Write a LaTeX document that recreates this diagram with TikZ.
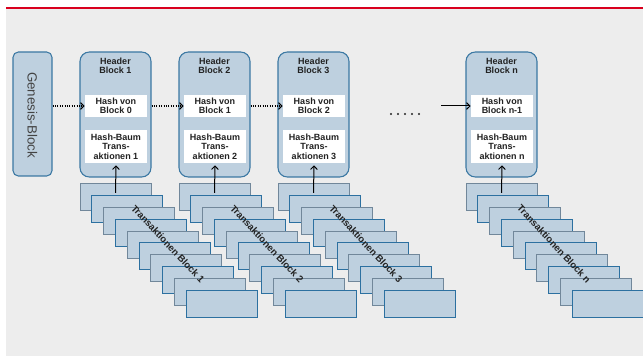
\documentclass[tikz,border=0pt]{standalone}
\usepackage{fontspec}
\setmainfont{Liberation Sans}
\usetikzlibrary{arrows.meta}

\definecolor{bggray}{HTML}{EDEDED}
\definecolor{topred}{HTML}{D9001E}
\definecolor{boxfill}{HTML}{BED0DF}
\definecolor{boxline}{HTML}{3B78A3}
\definecolor{stackA}{HTML}{71879A}
\definecolor{stackB}{HTML}{2C70A0}
\definecolor{txt}{HTML}{222222}

\begin{document}
\begin{tikzpicture}[x=0.75pt,y=-0.75pt,
  blockbox/.style={draw=boxline, line width=0.8pt, fill=boxfill,
    rounded corners=7pt, minimum width=53.25pt, minimum height=93.75pt,
    inner sep=0pt},
  genbox/.style={draw=boxline, line width=0.8pt, fill=boxfill,
    rounded corners=4pt, minimum width=29.25pt, minimum height=93pt,
    inner sep=0pt},
  hashbox/.style={fill=white, minimum width=46.5pt, minimum height=16.5pt,
    inner sep=0pt, align=center, text=txt,
    font=\bfseries\fontsize{6.75pt}{7pt}\selectfont},
  treebox/.style={hashbox, minimum height=24.75pt},
  titletext/.style={align=center, text=txt, inner sep=0pt,
    font=\bfseries\fontsize{6.75pt}{6.9pt}\selectfont},
  txrect/.style={fill=boxfill, line width=0.75pt, minimum width=53.25pt,
    minimum height=20.25pt, inner sep=0pt},
  txlabel/.style={rotate=-47, text=txt, inner sep=0pt,
    font=\bfseries\fontsize{7.2pt}{8.5pt}\selectfont},
  link/.style={densely dotted, line width=0.8pt,
    -{Straight Barb[length=2.6pt,width=5pt]}},
  solidlink/.style={line width=0.75pt,
    -{Straight Barb[length=2.6pt,width=5pt]}}
]
\useasboundingbox (0,0) rectangle (643,356);

% page frame: white margin, grey panel, red rule on top
\fill[white] (0,0) rectangle (643,356);
\fill[bggray] (6,9) rectangle (643,356);
\fill[topred] (6,7) rectangle (643,9.2);

% genesis block
\node[genbox] (genesis) at (32.5,114) {};
\node[rotate=-90, text=txt!85!white, inner sep=0pt,
  font=\fontsize{10pt}{12pt}\selectfont] (genlabel) at (32.5,115) {Genesis-Block};

% block headers
\foreach \i/\L/\h/\t in {1/80/0/1, 2/179/1/2, 3/278/2/3, n/466/n-1/n}{
  \node[blockbox] (blk\i) at ({\L+35.5},114.5) {};
  \node[titletext] (title\i) at ({\L+35.5},65.5) {Header\\Block \t};
  \node[hashbox] (hash\i) at ({\L+36},106) {Hash von\\Block \h};
  \node[treebox] (tree\i) at ({\L+36},146.5) {Hash-Baum\\Trans-\\aktionen \t};
}

% chain links
\draw[link] (genesis.east |- hash1) -- (hash1.west);
\draw[link] (blk1.east |- hash2) -- (hash2.west);
\draw[link] (blk2.east |- hash3) -- (hash3.west);
\coordinate (gapend) at (441,106);
\draw[solidlink] (gapend) -- (hashn.west);
\foreach \k in {0,...,4}
  \fill[txt] ({391+7*\k},114) circle (0.85pt);

% transaction stacks
\foreach \i/\L/\t in {1/80/1, 2/179/2, 3/278/3, n/466/n}{
  \node[txrect, draw=stackA] (st\i-0) at ({\L+35.5},197.5) {};
  \draw[solidlink] ([yshift=3.4pt]st\i-0.center) -- ([yshift=-1.5pt]tree\i.south);
  \foreach \j in {1,...,9}{
    \pgfmathsetmacro{\oddj}{mod(\j,2)}
    \ifdim\oddj pt>0.5pt
      \node[txrect, draw=stackB] (st\i-\j) at ({\L+35.5+11.8*\j},{197.5+11.8*\j}) {};
    \else
      \node[txrect, draw=stackA] (st\i-\j) at ({\L+35.5+11.8*\j},{197.5+11.8*\j}) {};
    \fi
  }
  \node[txlabel] (lab\i) at ({\L+88},244) {Transaktionen Block \t};
}
\end{tikzpicture}
\end{document}
